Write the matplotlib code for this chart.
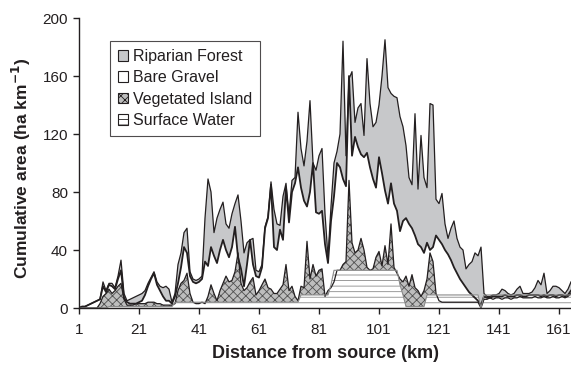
import matplotlib
matplotlib.use("Agg")
import matplotlib.pyplot as plt
from matplotlib.patches import Patch
import numpy as np

plt.rcParams['font.family'] = ['Liberation Sans', 'DejaVu Sans']
plt.rcParams['hatch.linewidth'] = 0.6

km = list(range(1, 166))

riparian = [0, 1, 1, 2, 3, 4, 5, 6, 18, 12,
            17, 17, 14, 22, 33, 10, 5, 6, 7, 8,
            9, 10, 12, 17, 21, 25, 18, 15, 14, 15,
            13, 4, 10, 30, 38, 52, 55, 25, 20, 19,
            20, 22, 62, 89, 80, 52, 62, 68, 73, 58,
            55, 65, 72, 78, 60, 38, 45, 47, 48, 26,
            25, 30, 56, 63, 87, 68, 58, 57, 77, 86,
            64, 88, 90, 135, 110, 98, 115, 143, 100, 95,
            105, 110, 65, 35, 70, 100, 108, 120, 184, 105,
            158, 163, 128, 138, 141, 119, 172, 141, 125, 128,
            140, 160, 185, 152, 148, 146, 145, 132, 125, 112,
            90, 85, 134, 82, 119, 90, 83, 141, 140, 75,
            72, 79, 58, 48, 55, 60, 48, 42, 40, 27,
            30, 32, 38, 36, 42, 10, 8, 8, 9, 9,
            10, 13, 12, 10, 9, 10, 13, 15, 10, 10,
            10, 11, 14, 19, 16, 24, 10, 12, 15, 15,
            14, 12, 10, 13, 18]

bare_gravel = [0, 1, 1, 2, 3, 4, 5, 6, 15, 11,
               16, 15, 13, 20, 26, 7, 4, 3, 3, 3,
               4, 5, 9, 15, 20, 24, 16, 12, 8, 5,
               5, 3, 8, 17, 28, 42, 38, 22, 18, 17,
               18, 20, 32, 29, 42, 36, 31, 40, 47, 40,
               35, 42, 56, 35, 27, 15, 30, 47, 30, 22,
               21, 28, 55, 62, 85, 42, 40, 54, 47, 83,
               59, 80, 86, 97, 83, 74, 70, 80, 100, 66,
               65, 67, 44, 31, 60, 77, 100, 97, 89, 84,
               160, 105, 118, 111, 106, 104, 107, 97, 89, 83,
               104, 93, 81, 72, 86, 72, 67, 53, 60, 62,
               58, 55, 50, 44, 42, 38, 45, 40, 42, 50,
               47, 44, 40, 37, 33, 28, 24, 20, 17, 14,
               11, 9, 7, 5, 2, 8, 7, 7, 8, 8,
               8, 8, 9, 8, 8, 8, 9, 9, 8, 8,
               9, 9, 9, 9, 8, 9, 8, 9, 9, 8,
               9, 9, 8, 9, 12]

veg_island = [0, 0, 0, 0, 0, 0, 0, 3, 8, 10,
              13, 10, 12, 15, 17, 6, 2, 2, 2, 3,
              3, 3, 3, 4, 4, 4, 3, 3, 2, 2,
              2, 2, 3, 12, 17, 19, 24, 10, 4, 3,
              3, 4, 3, 8, 16, 10, 5, 12, 17, 22,
              18, 19, 25, 38, 17, 12, 14, 18, 21, 9,
              12, 16, 20, 14, 13, 10, 10, 13, 16, 30,
              12, 15, 8, 5, 15, 14, 46, 20, 30, 22,
              26, 27, 8, 12, 14, 18, 26, 26, 30, 32,
              88, 45, 38, 40, 48, 40, 28, 26, 27, 35,
              39, 29, 43, 30, 58, 28, 24, 20, 18, 22,
              15, 23, 14, 12, 8, 12, 20, 38, 32, 10,
              5, 4, 4, 4, 4, 4, 4, 4, 4, 4,
              4, 4, 4, 4, 0, 6, 6, 7, 6, 7,
              7, 6, 7, 7, 6, 7, 7, 8, 7, 7,
              7, 7, 8, 7, 7, 8, 7, 7, 8, 7,
              7, 8, 7, 8, 10]

surface_water = ([0] * 10 + [1] * 22 + [4] * 42 + [9] * 10 + [16] + [26] * 22
                 + [16, 9] + [1] * 7 + [9] * 18 + [0] + [9] * 30)

fig = plt.figure(figsize=(5.71, 3.74), dpi=100)
ax = fig.add_axes([79 / 571, 66 / 374, 492 / 571, 290 / 374])

ink = '#231f20'
veg_face = '#bdbdbd'

ax.fill_between(km, 0, riparian, facecolor='#c7c8ca', edgecolor='none')
ax.plot(km, riparian, color=ink, lw=0.9)

ax.fill_between(km, 0, bare_gravel, facecolor='white', edgecolor='none')
ax.plot(km, bare_gravel, color=ink, lw=1.3)

ax.fill_between(km, 0, veg_island, facecolor=veg_face, edgecolor='#505050',
                hatch='xxxx', linewidth=0)
ax.plot(km, veg_island, color=ink, lw=0.9)

ax.fill_between(km, 0, surface_water, facecolor='white', edgecolor='#8a8a8a',
                hatch='---', linewidth=0)
ax.plot(km, surface_water, color='#8a8a8a', lw=0.8)

ax.set_xlim(1, 165)
ax.set_ylim(0, 200)
ax.set_xticks(range(1, 162, 20))
ax.set_yticks(range(0, 201, 40))

for s in ['top', 'right']:
    ax.spines[s].set_visible(False)
for s in ['left', 'bottom']:
    ax.spines[s].set_color(ink)
    ax.spines[s].set_linewidth(1.0)

ax.tick_params(axis='both', direction='out', length=4.5, width=1, color=ink,
               labelsize=11, labelcolor=ink)
ax.tick_params(axis='x', pad=6)
ax.tick_params(axis='y', pad=3.5)

ax.set_xlabel('Distance from source (km)', fontsize=13, fontweight='bold', color=ink)
ax.set_ylabel('Cumulative area (ha km$^{\\mathbf{-1}}$)', fontsize=12.5,
              fontweight='bold', color=ink)
ax.xaxis.set_label_coords(0.5, -0.128)
ax.yaxis.set_label_coords(-0.094, 0.483)

handles = [
    Patch(facecolor='#c7c8ca', edgecolor=ink, lw=0.8, label='Riparian Forest'),
    Patch(facecolor='white', edgecolor=ink, lw=0.8, label='Bare Gravel'),
    Patch(facecolor=veg_face, edgecolor=ink, lw=0.8, hatch='xxxx', label='Vegetated Island'),
    Patch(facecolor='white', edgecolor=ink, lw=0.8, hatch='---', label='Surface Water'),
]
leg = ax.legend(handles=handles, loc='upper left', bbox_to_anchor=(0.063, 0.921),
                borderaxespad=0, fontsize=11.5, frameon=True, fancybox=False,
                handlelength=0.65, handleheight=0.65, handletextpad=0.3,
                labelspacing=0.4, borderpad=0.5)
leg.get_frame().set_edgecolor(ink)
leg.get_frame().set_linewidth(0.8)
for t in leg.get_texts():
    t.set_color(ink)

fig.savefig('out.png', dpi=100)
